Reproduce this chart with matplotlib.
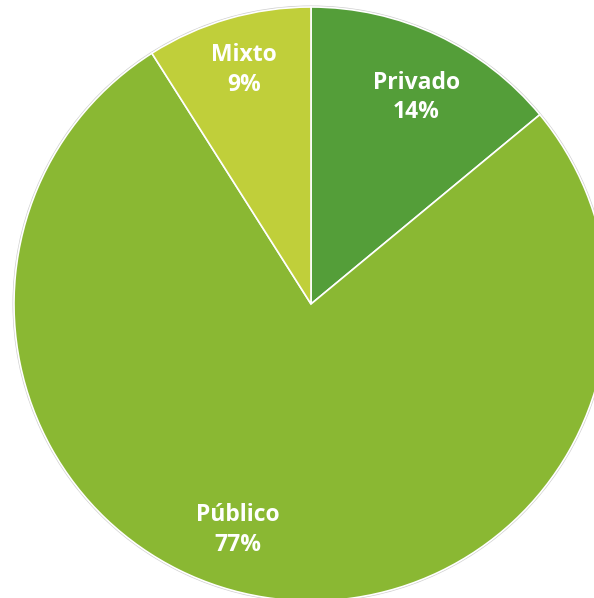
import numpy as np
import matplotlib.pyplot as plt

labels = ["Privado", "Público", "Mixto"]
values = [14, 77, 9]
colors = ["#549E39", "#8AB833", "#C0CF3A"]

# label placement: angle clockwise from top (deg), fraction of radius
label_ang = [27, 198, -16]
label_r = [0.78, 0.80, 0.82]

fig = plt.figure(figsize=(5.94, 5.98), dpi=100)
ax = fig.add_axes([0, 0, 1, 1])
R = 297
cx, cy = 311, 598 - 304

ax.pie(values, colors=colors, startangle=90, counterclock=False,
       radius=R, center=(cx, cy), frame=True,
       wedgeprops=dict(edgecolor="white", linewidth=1.2))
# faint grey rim
ax.add_patch(plt.Circle((cx, cy), R + 0.8, fill=False, ec="#cfcfcf", lw=1.0, zorder=0))

for lab, v, a, f in zip(labels, values, label_ang, label_r):
    t = np.deg2rad(a)
    x = cx + f * R * np.sin(t)
    y = cy + f * R * np.cos(t)
    ax.text(x, y, f"{lab}\n{v}%", ha="center", va="center", color="white",
            fontsize=16.5, fontweight="bold", family="Open Sans", linespacing=1.3)

ax.set_xlim(0, 594)
ax.set_ylim(0, 598)
ax.set_aspect("equal")
ax.axis("off")
fig.savefig("out.png", dpi=100)
